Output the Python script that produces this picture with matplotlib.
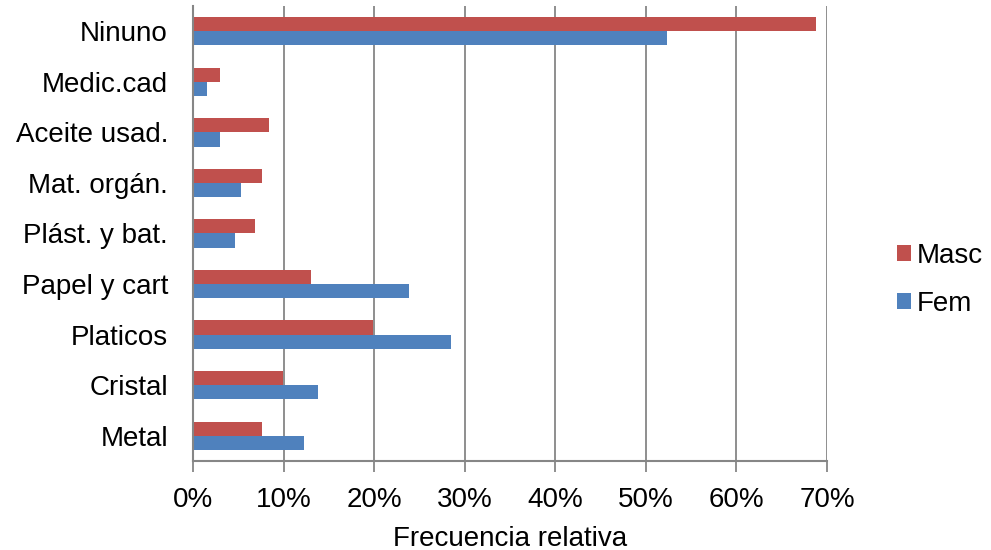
import matplotlib
matplotlib.use("Agg")
import matplotlib.pyplot as plt
import numpy as np
from matplotlib.ticker import FuncFormatter

categories = ["Ninuno", "Medic.cad", "Aceite usad.", "Mat. orgán.", "Plást. y bat.",
              "Papel y cart", "Platicos", "Cristal", "Metal"]
masc = [68.8, 3.0, 8.4, 7.6, 6.9, 13.0, 19.9, 9.9, 7.6]
fem = [52.3, 1.5, 3.0, 5.35, 4.6, 23.8, 28.5, 13.8, 12.3]
xticks = [0, 10, 20, 30, 40, 50, 60, 70]

plt.rcParams['font.family'] = ['Liberation Sans', 'DejaVu Sans']

fig = plt.figure(figsize=(9.91, 5.5), dpi=100)
ax = fig.add_axes([193/991, 1-461/550, (827-193)/991, (461-6)/550])

y = np.arange(len(categories))
h = 0.28
b1 = ax.barh(y - h/2, masc, height=h, color="#C0504D", label="Masc", zorder=3)
b2 = ax.barh(y + h/2, fem, height=h, color="#4F81BD", label="Fem", zorder=3)

ax.set_xlim(0, 70)
ax.set_ylim(len(categories) - 0.5, -0.5)
ax.set_yticks(y)
ax.set_yticklabels(categories, fontsize=20)
ax.set_xticks(xticks)
ax.xaxis.set_major_formatter(FuncFormatter(lambda v, p: f"{int(v)}%"))
ax.tick_params(axis='x', labelsize=20, length=8, width=1.3, color="#868686", pad=11, direction='out')
ax.tick_params(axis='y', length=0, pad=18)

ax.grid(axis='x', color="#868686", linewidth=1.3, zorder=0)
for s in ["top", "right"]:
    ax.spines[s].set_visible(False)
for s in ["left", "bottom"]:
    ax.spines[s].set_color("#868686")
    ax.spines[s].set_linewidth(1.5)
ax.spines["left"].set_zorder(4)

ax.set_xlabel("Frecuencia relativa", fontsize=20, labelpad=9)

leg = fig.legend(handles=[b1, b2], labels=["Masc", "Fem"], loc="center left",
                 bbox_to_anchor=(897/991, 1-280/550), frameon=False, fontsize=20,
                 borderpad=0, borderaxespad=0,
                 handlelength=0.5, handleheight=0.5, handletextpad=0.2, labelspacing=0.8)

fig.savefig("out.png", dpi=100)
